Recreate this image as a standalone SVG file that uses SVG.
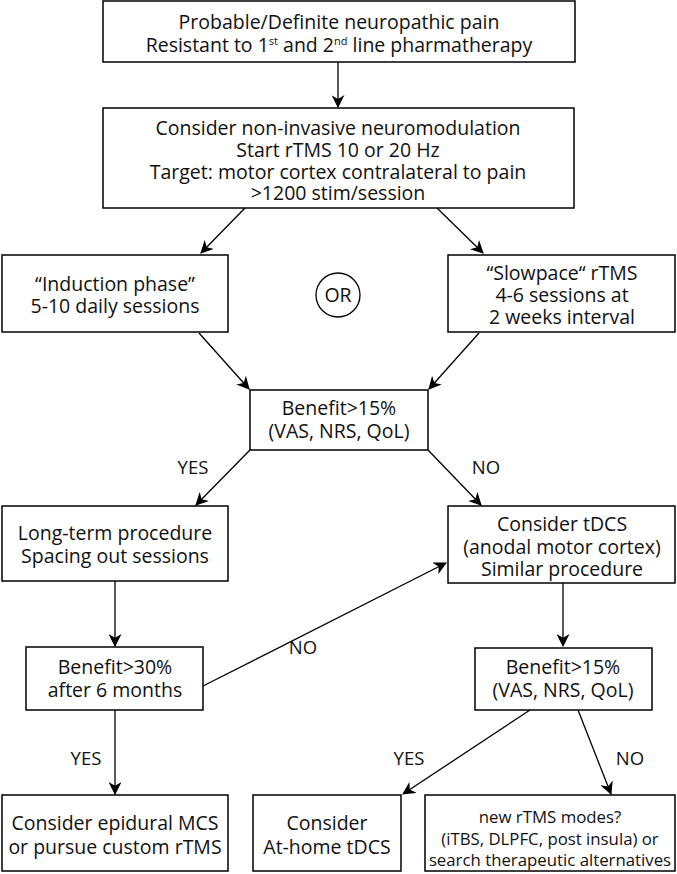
<svg xmlns="http://www.w3.org/2000/svg" width="677" height="874" viewBox="0 0 677 874">
<style>
.box{fill:#fff;stroke:#000;stroke-width:1.5}
.t{font-family:"Open Sans","Noto Sans",sans-serif;font-size:19.5px;fill:#111;text-anchor:middle}
.lbl{font-family:"Open Sans","Noto Sans",sans-serif;font-size:18.5px;fill:#111;text-anchor:middle}
.sm{font-size:16.8px}
.sup{font-size:11px}
.c{stroke:#000;stroke-width:1.3;fill:none;marker-end:url(#ah)}
</style>
<defs>
<marker id="ah" viewBox="0 0 12 12" refX="11" refY="6" markerWidth="13" markerHeight="13" markerUnits="userSpaceOnUse" orient="auto">
<path d="M0,0 L12,6 L0,12 L3.5,6 Z" fill="#000"/>
</marker>
</defs>
<g id="connectors">
<line class="c" x1="338" y1="62" x2="338" y2="107"/>
<line class="c" x1="245" y1="208" x2="201" y2="253"/>
<line class="c" x1="437" y1="208" x2="483" y2="253"/>
<line class="c" x1="199" y1="333" x2="249" y2="389"/>
<line class="c" x1="479" y1="333" x2="429" y2="389"/>
<line class="c" x1="250" y1="450" x2="196" y2="505"/>
<line class="c" x1="428" y1="450" x2="481" y2="505"/>
<line class="c" x1="115" y1="581" x2="115" y2="646"/>
<line class="c" x1="203" y1="686" x2="446" y2="563"/>
<line class="c" x1="563" y1="583" x2="563" y2="646"/>
<line class="c" x1="115" y1="710" x2="115" y2="794"/>
<line class="c" x1="530" y1="710" x2="403" y2="794"/>
<line class="c" x1="578" y1="710" x2="611" y2="794"/>
<text class="lbl" x="193" y="474">YES</text>
<text class="lbl" x="486" y="474">NO</text>
<text class="lbl" x="303" y="654">NO</text>
<text class="lbl" x="86" y="765">YES</text>
<text class="lbl" x="409" y="765">YES</text>
<text class="lbl" x="630" y="765">NO</text>
</g>
<g id="n1">
<rect class="box" x="103" y="1" width="472" height="61"/>
<text class="t" x="339" y="29">Probable/Definite neuropathic pain</text>
<text class="t" x="339" y="52">Resistant to 1<tspan class="sup" dy="-7">st</tspan><tspan dy="7"> and 2</tspan><tspan class="sup" dy="-7">nd</tspan><tspan dy="7"> line pharmatherapy</tspan></text>
</g>
<g id="n2">
<rect class="box" x="103" y="108" width="471" height="100"/>
<text class="t" x="338" y="135">Consider non-invasive neuromodulation</text>
<text class="t" x="338" y="157">Start rTMS 10 or 20 Hz</text>
<text class="t" x="338" y="179">Target: motor cortex contralateral to pain</text>
<text class="t" x="338" y="200">&gt;1200 stim/session</text>
</g>
<g id="n3">
<rect class="box" x="2" y="255" width="226" height="77"/>
<text class="t" x="115" y="291">“Induction phase”</text>
<text class="t" x="115" y="313">5-10 daily sessions</text>
</g>
<g id="or">
<circle cx="338" cy="295" r="22" fill="#fff" stroke="#000" stroke-width="1.3"/>
<text class="t" x="338" y="302">OR</text>
</g>
<g id="n4">
<rect class="box" x="448" y="255" width="227" height="77"/>
<text class="t" x="562" y="280">“Slowpace“ rTMS</text>
<text class="t" x="562" y="302">4-6 sessions at</text>
<text class="t" x="562" y="324">2 weeks interval</text>
</g>
<g id="n5">
<rect class="box" x="250" y="390" width="178" height="60"/>
<text class="t" x="339" y="415">Benefit&gt;15%</text>
<text class="t" x="339" y="438">(VAS, NRS, QoL)</text>
</g>
<g id="n6">
<rect class="box" x="2" y="506" width="226" height="75"/>
<text class="t" x="115" y="540">Long-term procedure</text>
<text class="t" x="115" y="563">Spacing out sessions</text>
</g>
<g id="n7">
<rect class="box" x="448" y="506" width="227" height="77"/>
<text class="t" x="562" y="531">Consider tDCS</text>
<text class="t" x="562" y="554">(anodal motor cortex)</text>
<text class="t" x="562" y="576">Similar procedure</text>
</g>
<g id="n8">
<rect class="box" x="26" y="647" width="177" height="63"/>
<text class="t" x="115" y="674">Benefit&gt;30%</text>
<text class="t" x="115" y="697">after 6 months</text>
</g>
<g id="n9">
<rect class="box" x="475" y="648" width="177" height="62"/>
<text class="t" x="563" y="674">Benefit&gt;15%</text>
<text class="t" x="563" y="697">(VAS, NRS, QoL)</text>
</g>
<g id="n10">
<rect class="box" x="2" y="795" width="226" height="76"/>
<text class="t" x="115" y="830">Consider epidural MCS</text>
<text class="t" x="115" y="854">or pursue custom rTMS</text>
</g>
<g id="n11">
<rect class="box" x="253" y="795" width="148" height="76"/>
<text class="t" x="327" y="830">Consider</text>
<text class="t" x="327" y="854">At-home tDCS</text>
</g>
<g id="n12">
<rect class="box" x="425" y="795" width="250" height="76"/>
<text class="t sm" x="550" y="823">new rTMS modes?</text>
<text class="t sm" x="550" y="845">(iTBS, DLPFC, post insula) or</text>
<text class="t sm" x="550" y="866">search therapeutic alternatives</text>
</g>
</svg>
